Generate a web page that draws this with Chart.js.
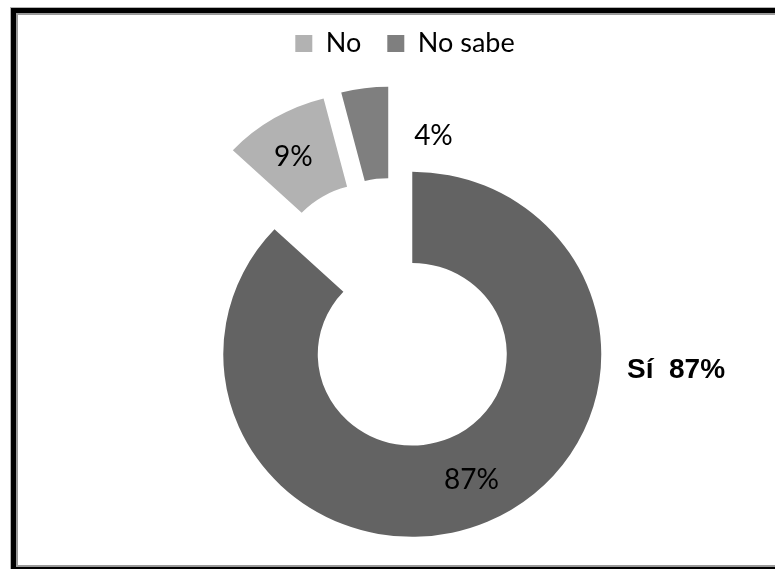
<!DOCTYPE html>
<html>
<head>
<meta charset="utf-8">
<script src="https://cdn.jsdelivr.net/npm/chart.js@4/dist/chart.umd.min.js"></script>
<style>
  html, body { margin: 0; padding: 0; background: #fff; }
  #wrap { position: relative; width: 775px; height: 569px; overflow: hidden; }
  #wrap canvas { position: absolute; left: 0; top: 0; }
  #frame {
    position: absolute; left: 11px; top: 8px;
    width: 800px; height: 554px;
    border: 5px solid #000;
    box-shadow: 0 0 0 1px #b4b4b4, inset 0 0 0 2px #9a9a9a;
    pointer-events: none;
  }
</style>
</head>
<body>
<div id="wrap">
  <canvas id="chart" width="775" height="569"></canvas>
  <div id="frame"></div>
</div>
<script>
// Survey answers and their share (%)
const CATEGORIES = ['Sí', 'No', 'No sabe'];
const PERCENTS = [87, 9, 4];
const COLORS = ['#636363', '#b2b2b2', '#7f7f7f'];
const LEGEND_HIDDEN = ['Sí'];

// Ring geometry and label placement
const RING_RADIUS = 189;
const EXPLODE = 46;          // every slice is pulled away from the centre
const SQUASH = 0.966;        // slight vertical flattening of the ring
const PIE_SHIFT_X = -11;     // ring sits a little left of the legend centre
const LABEL_NUDGE = [[3, 0], [-5, 0], [63, 2]];
const SI_LABEL_X = 627, SI_LABEL_Y = 370;

const explodedRing = {
  id: 'explodedRing',
  afterLayout(chart) {
    chart.chartArea.left += 2 * PIE_SHIFT_X;
    chart.chartArea.width -= 2 * PIE_SHIFT_X;
  },
  beforeDatasetDraw(chart, args) {
    const ctx = chart.ctx;
    const arcs = args.meta.data;
    if (!arcs.length) return;
    const cx = arcs[0].x, cy = arcs[0].y;
    ctx.save();
    ctx.translate(cx, cy);
    ctx.scale(1, SQUASH);
    ctx.translate(-cx, -cy);
    arcs.forEach(arc => {
      const mid = (arc.startAngle + arc.endAngle) / 2;
      ctx.save();
      ctx.translate(Math.cos(mid) * EXPLODE, Math.sin(mid) * EXPLODE);
      arc.draw(ctx, chart.chartArea);
      ctx.restore();
    });
    ctx.restore();
    return false;
  },
  afterDatasetsDraw(chart) {
    const meta = chart.getDatasetMeta(0);
    const ctx = chart.ctx;
    ctx.save();
    ctx.fillStyle = '#000';
    ctx.font = '28px Lato';
    ctx.textAlign = 'center';
    ctx.textBaseline = 'middle';
    meta.data.forEach((arc, i) => {
      const mid = (arc.startAngle + arc.endAngle) / 2;
      const r = (arc.innerRadius + arc.outerRadius) / 2 + EXPLODE;
      const x = arc.x + Math.cos(mid) * r + LABEL_NUDGE[i][0];
      const y = arc.y + Math.sin(mid) * r * SQUASH + LABEL_NUDGE[i][1];
      ctx.fillText(PERCENTS[i] + '%', x, y);
    });
    ctx.font = 'bold 28px "Liberation Sans", Arial, sans-serif';
    ctx.textAlign = 'left';
    ctx.fillText(CATEGORIES[0] + '  ' + PERCENTS[0] + '%', SI_LABEL_X, SI_LABEL_Y);
    ctx.restore();
  }
};

new Chart(document.getElementById('chart'), {
  type: 'doughnut',
  data: {
    labels: CATEGORIES,
    datasets: [{
      data: PERCENTS,
      backgroundColor: COLORS,
      borderWidth: 0
    }]
  },
  options: {
    responsive: false,
    animation: false,
    devicePixelRatio: 1,
    events: [],
    cutout: '50%',
    radius: RING_RADIUS,
    layout: { padding: { top: 4, bottom: 9, left: 35, right: 0 } },
    plugins: {
      legend: {
        position: 'top',
        labels: {
          boxWidth: 17,
          boxHeight: 17,
          padding: 26,
          color: '#000',
          font: { family: 'Lato', size: 27 },
          filter: item => !LEGEND_HIDDEN.includes(item.text)
        }
      },
      tooltip: { enabled: false }
    }
  },
  plugins: [explodedRing]
});
</script>
</body>
</html>
